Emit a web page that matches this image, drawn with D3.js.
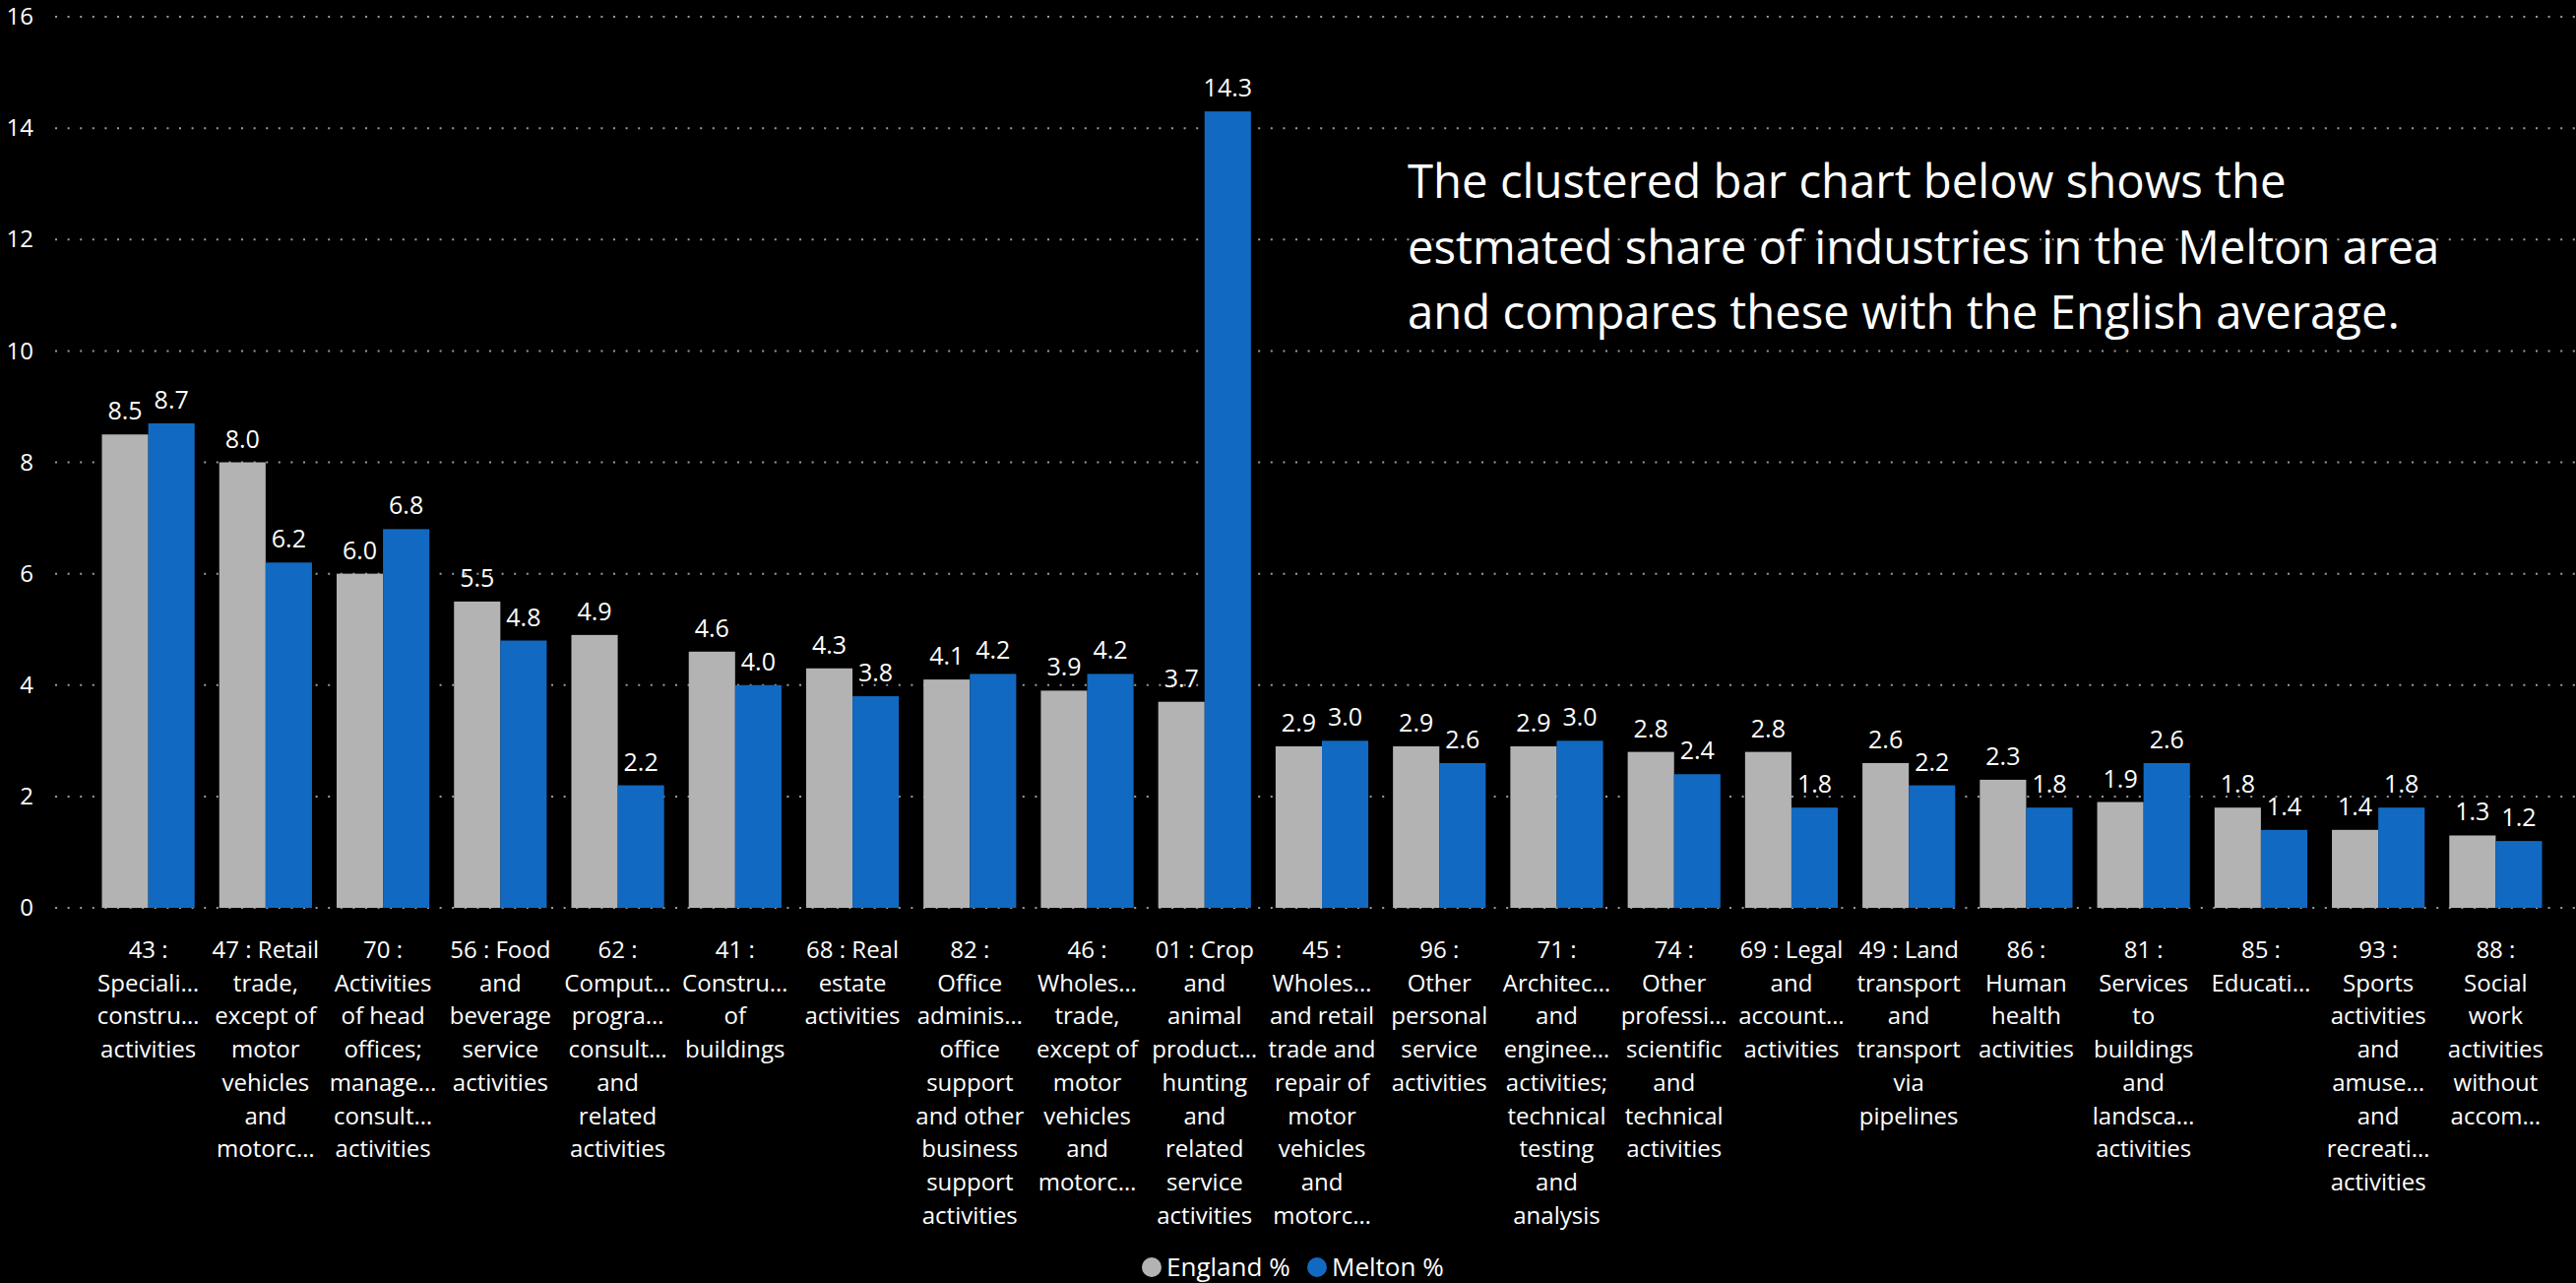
<!DOCTYPE html>
<html>
<head>
<meta charset="utf-8">
<script src="https://cdn.jsdelivr.net/npm/d3@7"></script>
<style>
  html, body { margin: 0; padding: 0; background: #000; }
  svg { display: block; }
  text { font-family: "Segoe UI", "Open Sans", sans-serif; fill: #fff; }
</style>
</head>
<body>
<svg id="chart" width="2617" height="1303"></svg>
<script>
// ---- data ----
const categoryLines = [
  ["43 :", "Speciali…", "constru…", "activities"],
  ["47 : Retail", "trade,", "except of", "motor", "vehicles", "and", "motorc…"],
  ["70 :", "Activities", "of head", "offices;", "manage…", "consult…", "activities"],
  ["56 : Food", "and", "beverage", "service", "activities"],
  ["62 :", "Comput…", "progra…", "consult…", "and", "related", "activities"],
  ["41 :", "Constru…", "of", "buildings"],
  ["68 : Real", "estate", "activities"],
  ["82 :", "Office", "adminis…", "office", "support", "and other", "business", "support", "activities"],
  ["46 :", "Wholes…", "trade,", "except of", "motor", "vehicles", "and", "motorc…"],
  ["01 : Crop", "and", "animal", "product…", "hunting", "and", "related", "service", "activities"],
  ["45 :", "Wholes…", "and retail", "trade and", "repair of", "motor", "vehicles", "and", "motorc…"],
  ["96 :", "Other", "personal", "service", "activities"],
  ["71 :", "Architec…", "and", "enginee…", "activities;", "technical", "testing", "and", "analysis"],
  ["74 :", "Other", "professi…", "scientific", "and", "technical", "activities"],
  ["69 : Legal", "and", "account…", "activities"],
  ["49 : Land", "transport", "and", "transport", "via", "pipelines"],
  ["86 :", "Human", "health", "activities"],
  ["81 :", "Services", "to", "buildings", "and", "landsca…", "activities"],
  ["85 :", "Educati…"],
  ["93 :", "Sports", "activities", "and", "amuse…", "and", "recreati…", "activities"],
  ["88 :", "Social", "work", "activities", "without", "accom…"]
];
const englandValues = [8.5, 8.0, 6.0, 5.5, 4.9, 4.6, 4.3, 4.1, 3.9, 3.7, 2.9, 2.9, 2.9, 2.8, 2.8, 2.6, 2.3, 1.9, 1.8, 1.4, 1.3];
const meltonValues  = [8.7, 6.2, 6.8, 4.8, 2.2, 4.0, 3.8, 4.2, 4.2, 14.3, 3.0, 2.6, 3.0, 2.4, 1.8, 2.2, 1.8, 2.6, 1.4, 1.8, 1.2];
const seriesNames = ["England %", "Melton %"];
const seriesColors = ["#B3B3B3", "#1269C1"];
const yTicks = [0, 2, 4, 6, 8, 10, 12, 14, 16];
const titleLines = [
  "The clustered bar chart below shows the",
  "estmated share of industries in the Melton area",
  "and compares these with the English average."
];

// ---- layout ----
const svg = d3.select("#chart");
const categories = categoryLines.map((d, i) => "c" + i);
const seriesData = [englandValues, meltonValues];

const x = d3.scaleBand().domain(categories).range([91, 2595]).paddingInner(0.21).paddingOuter(0.105);
const xs = d3.scaleBand().domain(seriesNames).range([0, x.bandwidth()]).padding(0);
const y = d3.scaleLinear().domain([0, 16]).range([922, 17]);

// gridlines
const grid = svg.append("g");
grid.selectAll("line").data(yTicks).join("line")
  .attr("x1", 56).attr("x2", 2617)
  .attr("y1", d => y(d)).attr("y2", d => y(d))
  .attr("stroke", "#9a9a9a").attr("stroke-width", 2)
  .attr("stroke-dasharray", "2,10.6");

// y axis labels
const yAxis = d3.axisLeft(y).tickValues(yTicks).tickSize(0).tickPadding(0).tickFormat(d3.format("d"));
const yG = svg.append("g").attr("transform", "translate(34,0)").call(yAxis);
yG.select(".domain").remove();
yG.selectAll("text").style("font-size", "24px").attr("fill", "#fff")
  .style("font-family", "'Segoe UI','Open Sans',sans-serif");

// bars
const groups = svg.append("g").selectAll("g").data(categories).join("g")
  .attr("transform", d => `translate(${x(d)},0)`);
seriesNames.forEach((s, si) => {
  groups.append("rect")
    .attr("x", xs(s))
    .attr("width", xs.bandwidth())
    .attr("y", (d, i) => y(seriesData[si][i]))
    .attr("height", (d, i) => y(0) - y(seriesData[si][i]))
    .attr("fill", seriesColors[si]);
  groups.append("text")
    .attr("x", xs(s) + xs.bandwidth() / 2)
    .attr("y", (d, i) => y(seriesData[si][i]) - 15)
    .attr("text-anchor", "middle")
    .style("font-size", "25px")
    .text((d, i) => seriesData[si][i].toFixed(1));
});

// x axis labels
const xLab = svg.append("g").selectAll("text").data(categoryLines).join("text")
  .attr("text-anchor", "middle")
  .style("font-size", "24px")
  .attr("transform", (d, i) => `translate(${x(categories[i]) + x.bandwidth() / 2},973)`);
xLab.selectAll("tspan").data(d => d).join("tspan")
  .attr("x", 0).attr("y", (d, i) => i * 33.7)
  .text(d => d);

// title text
svg.append("g").selectAll("text").data(titleLines).join("text")
  .attr("x", 1430).attr("y", (d, i) => 201 + i * 66.5)
  .style("font-size", "47.3px")
  .text(d => d);

// legend
const legend = svg.append("g");
const legendX = [1170, 1338];
seriesNames.forEach((s, i) => {
  legend.append("circle").attr("cx", legendX[i]).attr("cy", 1287).attr("r", 10).attr("fill", seriesColors[i]);
  legend.append("text").attr("x", legendX[i] + 15).attr("y", 1296)
    .style("font-size", "26px").text(s);
});
</script>
</body>
</html>
